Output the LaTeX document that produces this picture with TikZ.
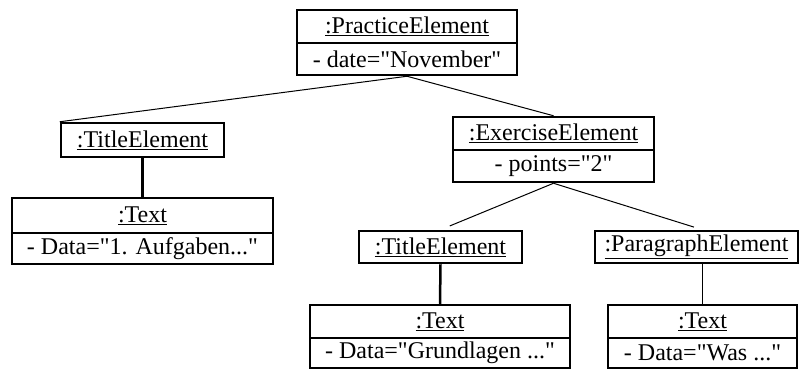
\documentclass[tikz,border=0pt]{standalone}
\usepackage{fontspec}
\setmainfont{Liberation Serif}[Ligatures=TeXOff]

\tikzset{
    objbox/.style={draw, line width=2.5pt, inner sep=0pt, font=\fontsize{24}{28}\selectfont},
    link/.style={line width=1pt},
    boldlink/.style={line width=2.5pt}
}

\begin{document}
\begin{tikzpicture}[x=1pt, y=-1pt]
    \useasboundingbox (0, 0) rectangle (799, 373);

    \node[objbox, minimum width=220pt, minimum height=33pt] (practice) at (407, 26.5) {\underline{:PracticeElement}};
    \node[objbox, minimum width=220pt, minimum height=32pt] (practiceattr) at (407, 59) {- date="November"};

    \node[objbox, minimum width=163pt, minimum height=34pt] (title1) at (142.5, 140) {\underline{:TitleElement}};
    \node[objbox, minimum width=261pt, minimum height=35pt] (text1) at (142.5, 215.5) {\underline{:Text}};
    \node[objbox, minimum width=261pt, minimum height=31pt] (text1attr) at (142.5, 248.5) {- Data="1. Aufgaben..."};

    \node[objbox, minimum width=201pt, minimum height=33pt] (exercise) at (553.5, 133.5) {\underline{:ExerciseElement}};
    \node[objbox, minimum width=201pt, minimum height=32pt] (exerciseattr) at (553.5, 166) {- points="2"};

    \node[objbox, minimum width=163pt, minimum height=32pt] (title2) at (440.5, 247) {\underline{:TitleElement}};
    \node[objbox, minimum width=203pt, minimum height=32pt] (para) at (696.5, 247) {\underline{:ParagraphElement}};

    \node[objbox, minimum width=260pt, minimum height=33pt] (text2) at (440, 321.5) {\underline{:Text}};
    \node[objbox, minimum width=260pt, minimum height=30pt] (text2attr) at (440, 353) {- Data="Grundlagen ..."};
    \node[objbox, minimum width=189pt, minimum height=33pt] (text3) at (702.5, 321.5) {\underline{:Text}};
    \node[objbox, minimum width=189pt, minimum height=30pt] (text3attr) at (702.5, 353) {- Data="Was ..."};

    \draw[link] (practiceattr.south) -- (title1.north west);
    \draw[link] (practiceattr.south) -- (exercise.north);
    \draw[link, shorten >=10pt] (exerciseattr.south) -- (title2.north);
    \draw[link, shorten >=9pt] (exerciseattr.south) -- (text3.north |- para.north);

    \draw[boldlink] (title1.south) -- (text1.north);
    \draw[boldlink] (title2.south) -- (text2.north);
    \draw[link] (text3.north |- para.south) -- (text3.north);
\end{tikzpicture}
\end{document}
